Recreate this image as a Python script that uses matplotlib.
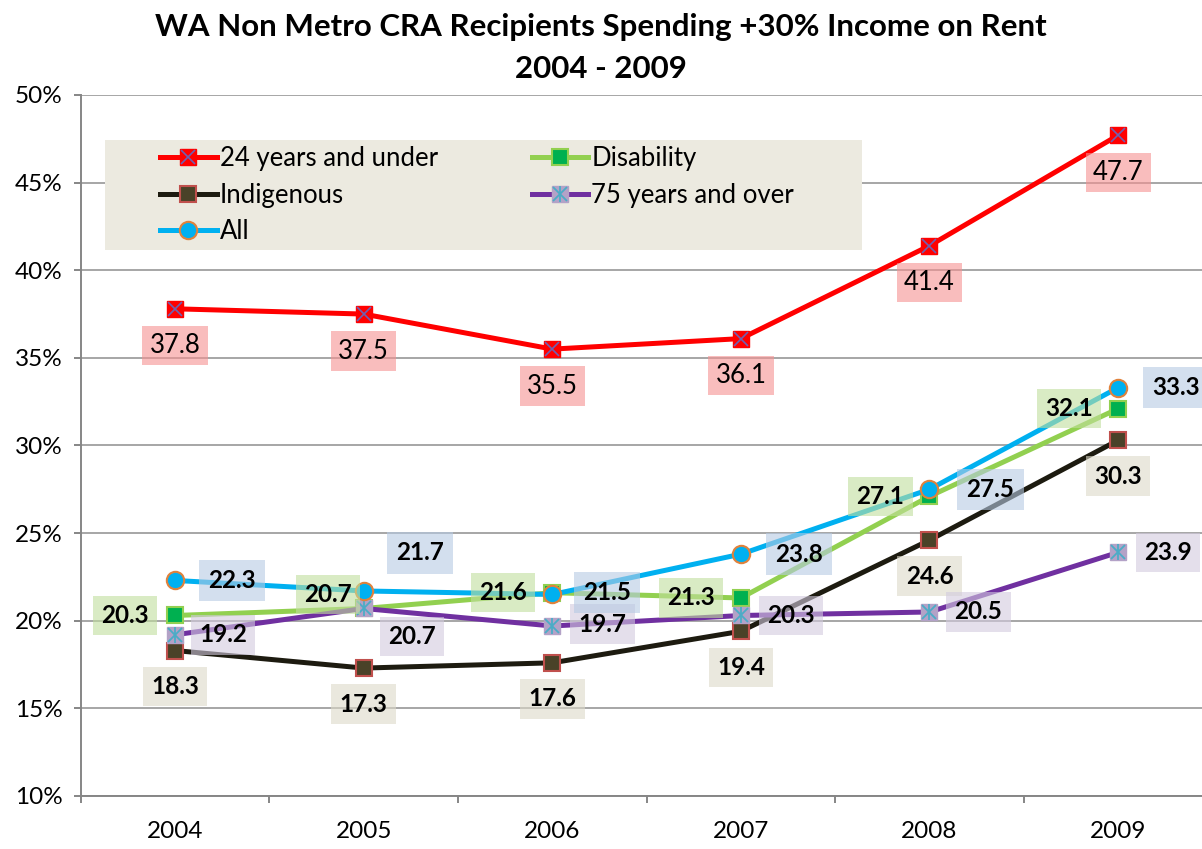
import matplotlib
matplotlib.use("Agg")
import matplotlib.pyplot as plt
from matplotlib.patches import Rectangle
from matplotlib.legend_handler import HandlerTuple
import numpy as np

years = ["2004", "2005", "2006", "2007", "2008", "2009"]
young = [37.8, 37.5, 35.5, 36.1, 41.4, 47.7]
disability = [20.3, 20.7, 21.6, 21.3, 27.1, 32.1]
indigenous = [18.3, 17.3, 17.6, 19.4, 24.6, 30.3]
older = [19.2, 20.7, 19.7, 20.3, 20.5, 23.9]
all_rec = [22.3, 21.7, 21.5, 23.8, 27.5, 33.3]

y_ticks = [10, 15, 20, 25, 30, 35, 40, 45, 50]
title = "WA Non Metro CRA Recipients Spending +30% Income on Rent\n2004 - 2009"

FONT = ["Lato", "DejaVu Sans"]
plt.rcParams["font.family"] = FONT

fig = plt.figure(figsize=(12.02, 8.49), dpi=100)
W, H = 1202, 849
ax = fig.add_axes([80.8 / W, 53 / H, 1131.6 / W, 701 / H])
x = np.arange(len(years))

PX = 0.72  # px -> pt

# grid
for v in y_ticks:
    ax.axhline(v, color="#A6A6A6", lw=1.4, zorder=0)

lw = 3.6
ms = 11.5
l_young, = ax.plot(x, young, color="#FF0000", lw=lw, marker="s", ms=ms,
                   mfc="#FF0000", mec="#FF0000", mew=1, zorder=3)
x_young, = ax.plot(x, young, ls="none", marker="x", ms=ms - 1, mec="#7060B0", mew=1.2, zorder=3.1)
l_dis, = ax.plot(x, disability, color="#92D050", lw=lw, marker="s", ms=ms,
                 mfc="#00B050", mec="#92D050", mew=1.5, zorder=3.2)
l_ind, = ax.plot(x, indigenous, color="#1D1B10", lw=lw, marker="s", ms=ms,
                 mfc="#4A4228", mec="#C0504D", mew=1.5, zorder=3.3)
l_old, = ax.plot(x, older, color="#7030A0", lw=lw, marker="s", ms=ms,
                 mfc="#B3A2C7", mec="#B3A2C7", mew=1, zorder=3.4)
x_old, = ax.plot(x, older, ls="none", marker="x", ms=ms - 1, mec="#4BACC6", mew=1.3, zorder=3.45)
v_old, = ax.plot(x, older, ls="none", marker="|", ms=ms, mec="#4BACC6", mew=1.3, zorder=3.46)
l_all, = ax.plot(x, all_rec, color="#00B0F0", lw=lw, marker="o", ms=12.5,
                 mfc="#00B0F0", mec="#E0823C", mew=1.5, zorder=3.5)

fs_lab = 18.5
fs_bold = 17.5
fs_tick = 17.5
fs_leg = 18.5

def labels(vals, offs, fc, weight, fs, pad):
    for i, v in enumerate(vals):
        dx, dy = offs[i]
        ax.annotate(f"{v:.1f}", (x[i], v), xytext=(dx * PX, dy * PX),
                    textcoords="offset points", ha="center", va="center",
                    fontsize=fs, fontweight=weight, color="black", zorder=5,
                    bbox=dict(boxstyle=f"square,pad={pad}", fc=fc, ec="none", alpha=0.6))

labels(young, [(0, -37)] * 6, "#F59191", "normal", fs_lab, 0.28)
labels(disability, [(-50, 0), (-36, 14), (-49, 0), (-50, 0), (-49, 0), (-49, 0)], "#C1DF9D", "bold", fs_bold, 0.34)
labels(indigenous, [(0, -36)] * 6, "#DCD9C8", "bold", fs_bold, 0.34)
labels(older, [(48, 0), (48, -28), (50, 2), (50, 0), (49, 0), (50, 0)], "#D2CADF", "bold", fs_bold, 0.34)
labels(all_rec, [(57, 0), (56, 38), (55, 2), (58, 0), (61, 0), (58, 0)], "#B6CAE3", "bold", fs_bold, 0.38)

ax.set_xlim(-0.5, len(years) - 0.5)
ax.set_ylim(10, 50)
ax.set_yticks(y_ticks)
ax.set_yticklabels([f"{v}%" for v in y_ticks])
ax.set_xticks(np.arange(-0.5, len(years)), labels=[""] * (len(years) + 1))
ax.set_xticks(x, labels=years, minor=True)
ax.tick_params(axis="x", which="minor", length=0, pad=18, labelsize=fs_tick)
ax.tick_params(axis="x", which="major", length=5, width=1.4, color="#868686", direction="out")
ax.tick_params(axis="y", length=5, width=1.4, color="#868686", labelsize=fs_tick, pad=8)
for s in ["top", "right"]:
    ax.spines[s].set_visible(False)
for s in ["left", "bottom"]:
    ax.spines[s].set_color("#868686")
    ax.spines[s].set_linewidth(1.4)
    ax.spines[s].set_zorder(1)

# legend background
ax.add_patch(Rectangle((24.2 / 1131.6, (796 - 250) / 701), 757 / 1131.6, 110 / 701,
                       transform=ax.transAxes, fc="#ECEAE0", ec="none", zorder=2))
handles = [(l_young, x_young), l_ind, l_all, l_dis, (l_old, x_old, v_old)]
names = ["24 years and under", "Indigenous", "All", "Disability", "75 years and over"]
leg = ax.legend(handles, names, ncol=2, loc="upper left",
                bbox_to_anchor=((160 - 80.8) / 1131.6, (796 - 146) / 701),
                frameon=False, fontsize=fs_leg, handlelength=2.2, handletextpad=0.12,
                labelspacing=0.45, columnspacing=3.65, borderpad=0, borderaxespad=0,
                numpoints=1, handler_map={tuple: HandlerTuple(ndivide=1)})
leg.set_zorder(4)

fig.text(0.5, 1 - 48 / H, title, ha="center", va="center", fontsize=22.5,
         fontweight="bold", linespacing=1.6)

fig.savefig("out.png", dpi=100)
